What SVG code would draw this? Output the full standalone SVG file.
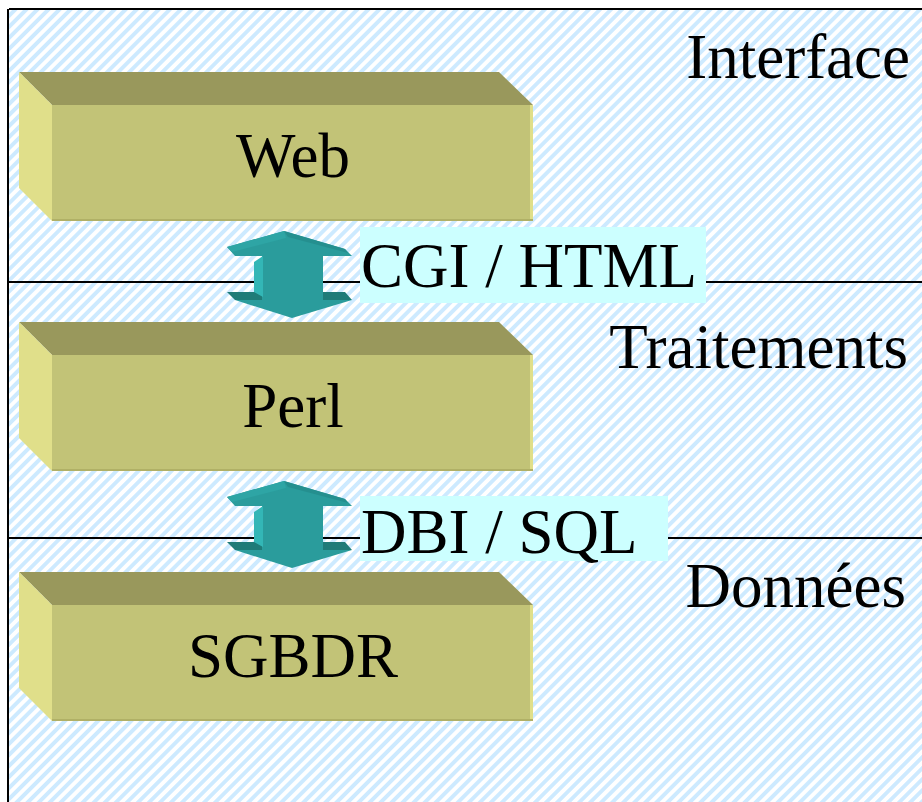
<svg xmlns="http://www.w3.org/2000/svg" width="922" height="802" viewBox="0 0 922 802">
  <defs>
    <pattern id="hatch" patternUnits="userSpaceOnUse" width="7.8" height="7.8" patternTransform="rotate(45)">
      <rect width="7.8" height="7.8" fill="#ffffff"/>
      <rect width="3.9" height="7.8" fill="#cdeaff"/>
    </pattern>
    <!-- 3D slab: top face, left face, front face with edge highlights -->
    <g id="slab">
      <polygon points="19,72 499,72 533,105 52,105" fill="#99985c"/>
      <polygon points="19,72 52,105 52,221 19,188" fill="#e0df8a"/>
      <rect x="52" y="105" width="481" height="116" fill="#c2c377"/>
      <rect x="530" y="105" width="3" height="116" fill="#e0df8a"/>
      <rect x="52" y="219" width="481" height="2" fill="#b0b066"/>
    </g>
    <!-- double-headed bevelled arrow -->
    <g id="dblarrow">
      <polygon points="284,231 345,249 352,256 235,256 227,247" fill="#2a9c9c"/>
      <polygon points="284,231 227,247 232,252 286,238" fill="#2ea5a5"/>
      <polygon points="284,231 345,249 348,253 288,237" fill="#258f8f"/>
      <polygon points="227,292 263,292 263,300 235,300" fill="#1f7b78"/>
      <polygon points="322,292 345,292 352,300 322,300" fill="#1f7b78"/>
      <rect x="262" y="255" width="61" height="46" fill="#2a9c9c"/>
      <polygon points="254,262 263,256 263,297 254,292" fill="#33b6b6"/>
      <polygon points="235,300 352,300 292,318" fill="#2a9c9c"/>
    </g>
  </defs>
  <style>
    .lbl { font-family: "Liberation Serif", "Times New Roman", serif; font-size: 63px; fill: #000; }
    .mid { text-anchor: middle; }
    .end { text-anchor: end; }
  </style>

  <!-- background frame -->
  <rect width="922" height="802" fill="#ffffff"/>
  <rect x="9" y="10" width="913" height="792" fill="url(#hatch)"/>
  <g id="frame" stroke="#000" stroke-width="2" fill="none">
    <line x1="9" y1="9" x2="922" y2="9"/>
    <line x1="8" y1="9" x2="8" y2="802"/>
    <line x1="9" y1="282" x2="922" y2="282"/>
    <line x1="9" y1="538" x2="922" y2="538"/>
  </g>

  <!-- layer names -->
  <g id="layers">
    <text class="lbl end" x="910" y="78">Interface</text>
    <text class="lbl end" x="908" y="368">Traitements</text>
    <text class="lbl end" x="906" y="607">Données</text>
  </g>

  <g id="web">
    <use href="#slab"/>
    <text class="lbl mid" x="293" y="177">Web</text>
  </g>
  <g id="perl">
    <use href="#slab" transform="translate(0,250)"/>
    <text class="lbl mid" x="293" y="427">Perl</text>
  </g>
  <g id="sgbdr">
    <use href="#slab" transform="translate(0,500)"/>
    <text class="lbl mid" x="293" y="677">SGBDR</text>
  </g>

  <g id="connectors">
    <g id="cgi-html">
      <use href="#dblarrow"/>
      <rect x="360" y="227" width="346" height="76" fill="#ccffff"/>
      <text class="lbl" x="361" y="287">CGI / HTML</text>
    </g>
    <g id="dbi-sql">
      <use href="#dblarrow" transform="translate(0,250)"/>
      <rect x="360" y="496" width="308" height="65" fill="#ccffff"/>
      <text class="lbl" x="361" y="553">DBI / SQL</text>
    </g>
  </g>
</svg>
